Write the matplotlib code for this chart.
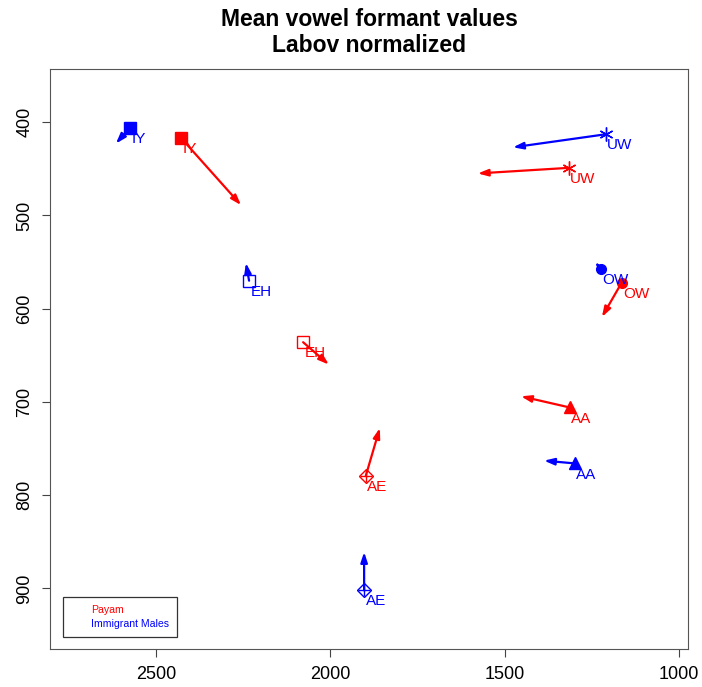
import numpy as np
import matplotlib
matplotlib.use("Agg")
import matplotlib.pyplot as plt
from matplotlib.lines import Line2D

plt.rcParams['font.family'] = ['Liberation Sans', 'DejaVu Sans']

# vowel means (F2, F1): nucleus -> glide end
vowels = ['IY', 'EH', 'AE', 'UW', 'OW', 'AA']
mark = ['s', 's', 'D', '*', 'o', '^']
filled = [True, False, False, False, True, True]

payam_f2 = [2428, 2078, 1898, 1316, 1164, 1313]
payam_f1 = [417, 636, 779, 449, 572, 706]
payam_f2_end = [2256, 2004, 1858, 1577, 1221, 1453]
payam_f1_end = [489, 660, 728, 455, 609, 694]

imm_f2 = [2575, 2233, 1903, 1210, 1224, 1298]
imm_f1 = [406, 570, 902, 413, 557, 766]
imm_f2_end = [2615, 2242, 1903, 1476, 1241, 1387]
imm_f1_end = [423, 551, 861, 427, 550, 763]

groups = [("Payam", "red", payam_f2, payam_f1, payam_f2_end, payam_f1_end),
          ("Immigrant Males", "blue", imm_f2, imm_f1, imm_f2_end, imm_f1_end)]

fig = plt.figure(figsize=(7.02, 6.87), dpi=100)
ax = fig.add_axes([50/702, 38/687, 638/702, 580/687])

for name, col, f2, f1, f2e, f1e in groups:
    for i, v in enumerate(vowels):
        ax.annotate("", xy=(f2e[i], f1e[i]), xytext=(f2[i], f1[i]),
                    arrowprops=dict(arrowstyle="-|>,head_length=0.6,head_width=0.2",
                                    color=col, lw=1.6, shrinkA=0, shrinkB=0))
        m = mark[i]
        if m == 'D':
            ax.plot(f2[i], f1[i], marker='D', ms=7, mfc='none', mec=col, mew=1)
            ax.plot(f2[i], f1[i], marker='+', ms=9, color=col, mew=1)
        elif m == '*':
            ax.plot(f2[i], f1[i], marker=(6, 2, 0), ms=10, color=col, mew=1)
        else:
            ax.plot(f2[i], f1[i], marker=m, ms=8 if m != 'o' else 7,
                    mfc=col if filled[i] else 'none', mec=col, mew=1)
        ax.annotate(v, (f2[i], f1[i]), xytext=(1, -3), textcoords='offset points',
                    ha='left', va='top', color=col, fontsize=11)

ax.set_xlim(2804, 974)
ax.set_ylim(965, 343)
ax.set_xticks([2500, 2000, 1500, 1000])
ax.set_yticks([400, 500, 600, 700, 800, 900])
ax.tick_params(direction='out', length=6, labelsize=13, color='#444444', top=False, right=False,
               pad=6)
for lab in ax.get_yticklabels():
    lab.set_rotation(90)
    lab.set_va('center')
for s in ax.spines.values():
    s.set_color('#555555')

h = [Line2D([], [], linestyle='none') for _ in groups]
leg = ax.legend(h, [g[0] for g in groups], loc='lower left', bbox_to_anchor=(0.02, 0.02),
                fancybox=False, edgecolor='#333333', fontsize=7.6, framealpha=1,
                labelcolor=[g[1] for g in groups], handlelength=1.5, handletextpad=0.4,
                borderpad=0.75, labelspacing=0.4, borderaxespad=0)
leg.get_frame().set_linewidth(0.9)

cx = (50 + 688) / 2 / 702
fig.text(cx, 1 - 19/687, "Mean vowel formant values", ha='center', va='center',
         fontsize=16.5, fontweight='bold')
fig.text(cx, 1 - 46/687, "Labov normalized", ha='center', va='center',
         fontsize=16.5, fontweight='bold')

fig.savefig("out.png", dpi=100)
